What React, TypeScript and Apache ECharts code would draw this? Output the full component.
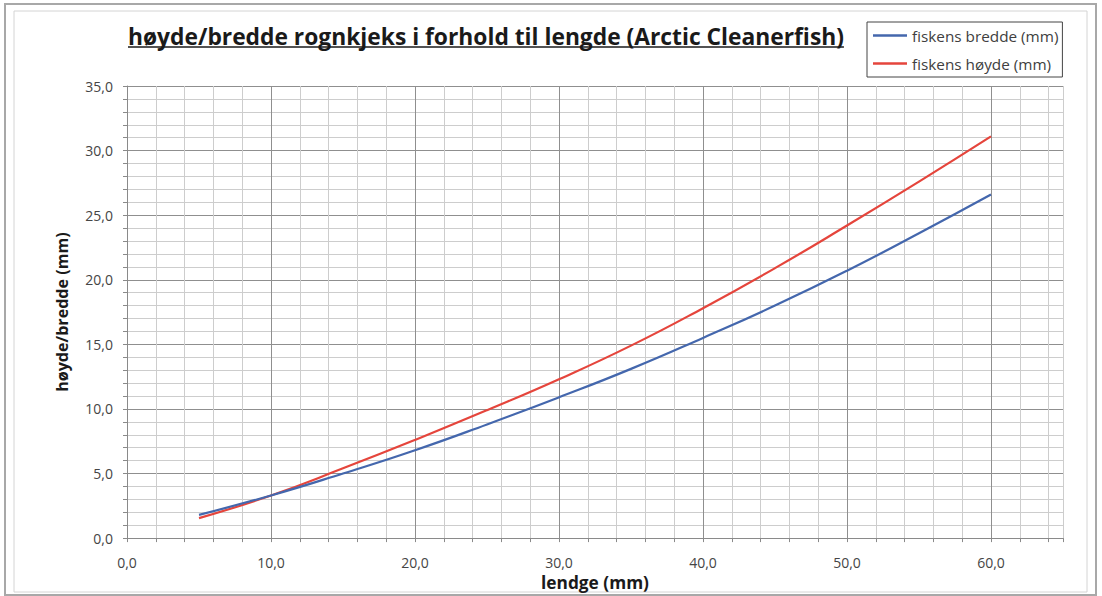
import React, { useEffect, useRef } from "react";
import * as echarts from "echarts";

const titleText = "høyde/bredde rognkjeks i forhold til lengde (Arctic Cleanerfish)";
const xAxisName = "lendge (mm)";
const yAxisName = "høyde/bredde (mm)";
const seriesNames = ["fiskens bredde (mm)", "fiskens høyde (mm)"];
const lengths = [5, 10, 15, 20, 25, 30, 35, 40, 45, 50, 55, 60];
const bredde = [1.8, 3.3, 5.0, 6.8, 8.8, 10.9, 13.1, 15.5, 18.0, 20.7, 23.6, 26.6];
const hoyde = [1.55, 3.3, 5.4, 7.6, 9.9, 12.3, 14.9, 17.8, 20.9, 24.2, 27.6, 31.1];
const xMin = 0;
const xMax = 65;
const xMinorStep = 2;
const xLabelStep = 10;
const yMin = 0;
const yMax = 35;
const yMinorStep = 1;
const yLabelStep = 5;

const FAMILY = '"Open Sans", "Noto Sans", sans-serif';

function measure(text: string, font: string): number {
  const c = document.createElement("canvas").getContext("2d");
  if (!c) return text.length * 8;
  c.font = font;
  return c.measureText(text).width;
}

function fitSize(text: string, weight: string, target: number): number {
  const w = measure(text, `${weight} 20px ${FAMILY}`);
  return Math.round(((20 * target) / w) * 10) / 10;
}

const fmt = (v: number) => v.toFixed(1).replace(".", ",");

export default function App() {
  const ref = useRef<HTMLDivElement>(null);

  useEffect(() => {
    document.body.style.margin = "0";
    if (!ref.current) return;
    const chart = echarts.init(ref.current, null, { renderer: "svg" });

    const titleSize = fitSize(titleText, "bold", 716);
    const titleW = measure(titleText, `bold ${titleSize}px ${FAMILY}`);
    const legendSize = fitSize(seriesNames[0], "normal", 146);
    const yNameSize = fitSize(yAxisName, "bold", 160);
    const xNameSize = fitSize(xAxisName, "bold", 108);

    const majorColor = "#8f8f8f";
    const minorColor = "#cdcdcd";
    const cycle = [majorColor, minorColor, minorColor, minorColor, minorColor];

    const option: any = {
      animation: false,
      backgroundColor: "#ffffff",
      grid: { left: 127, right: 39, top: 86, bottom: 50, containLabel: false },
      graphic: [
        {
          type: "rect",
          shape: { x: 5, y: 4, width: 1091, height: 591 },
          style: { fill: "none", stroke: "#a8a8a8", lineWidth: 2 },
          silent: true,
        },
        {
          type: "rect",
          shape: { x: 14, y: 11, width: 1073, height: 581 },
          style: { fill: "none", stroke: "#d4d4d4", lineWidth: 1 },
          silent: true,
        },
        {
          type: "text",
          style: {
            text: titleText,
            x: 128,
            y: 36,
            fill: "#1a1a1a",
            font: `bold ${titleSize}px ${FAMILY}`,
            textAlign: "left",
            textVerticalAlign: "middle",
          },
        },
        {
          type: "line",
          shape: { x1: 128, y1: 47, x2: 128 + titleW, y2: 47 },
          style: { stroke: "#1a1a1a", lineWidth: 1.5 },
        },
      ],
      legend: {
        orient: "vertical",
        left: 867,
        top: 22,
        padding: [6, 4, 6, 6],
        itemGap: 13,
        itemWidth: 34,
        itemHeight: 2.5,
        icon: "rect",
        borderColor: "#444",
        borderWidth: 1,
        backgroundColor: "#fff",
        textStyle: { fontSize: legendSize, color: "#404040", fontFamily: FAMILY, lineHeight: 14 },
        data: seriesNames,
      },
      xAxis: {
        type: "value",
        min: xMin,
        max: xMax,
        interval: xMinorStep,
        name: xAxisName,
        nameLocation: "middle",
        nameGap: 30,
        nameTextStyle: { fontWeight: "bold", fontSize: xNameSize, color: "#1a1a1a", fontFamily: FAMILY },
        axisLine: { show: true, lineStyle: { color: "#8a8a8a", width: 1 } },
        axisTick: { show: true, length: 4, lineStyle: { color: "#8a8a8a" } },
        axisLabel: {
          margin: 17,
          fontSize: 14,
          color: "#454545",
          fontFamily: FAMILY,
          formatter: (v: number) => (Math.abs(v % xLabelStep) < 1e-9 ? fmt(v) : ""),
        },
        splitLine: { show: true, lineStyle: { color: cycle, width: 1 } },
      },
      yAxis: {
        type: "value",
        min: yMin,
        max: yMax,
        interval: yMinorStep,
        name: yAxisName,
        nameLocation: "middle",
        nameGap: 57,
        nameRotate: 90,
        nameTextStyle: { fontWeight: "bold", fontSize: yNameSize, color: "#1a1a1a", fontFamily: FAMILY },
        axisLine: { show: true, lineStyle: { color: "#8a8a8a", width: 1 } },
        axisTick: { show: true, length: 4, lineStyle: { color: "#8a8a8a" } },
        axisLabel: {
          margin: 14,
          fontSize: 14,
          color: "#454545",
          fontFamily: FAMILY,
          formatter: (v: number) => (Math.abs(v % yLabelStep) < 1e-9 ? fmt(v) : ""),
        },
        splitLine: { show: true, lineStyle: { color: cycle, width: 1 } },
      },
      series: [
        {
          name: seriesNames[0],
          type: "line",
          smooth: true,
          showSymbol: false,
          data: lengths.map((x, i) => [x, bredde[i]]),
          itemStyle: { color: "#4467ad" },
          lineStyle: { color: "#4467ad", width: 2.2 },
          z: 3,
        },
        {
          name: seriesNames[1],
          type: "line",
          smooth: true,
          showSymbol: false,
          data: lengths.map((x, i) => [x, hoyde[i]]),
          itemStyle: { color: "#e5453c" },
          lineStyle: { color: "#e5453c", width: 2.2 },
          z: 2,
        },
      ],
    };

    chart.setOption(option);
    return () => chart.dispose();
  }, []);

  return (
    <div
      ref={ref}
      style={{ width: 1102, height: 596, position: "absolute", left: 0, top: 0 }}
    />
  );
}
